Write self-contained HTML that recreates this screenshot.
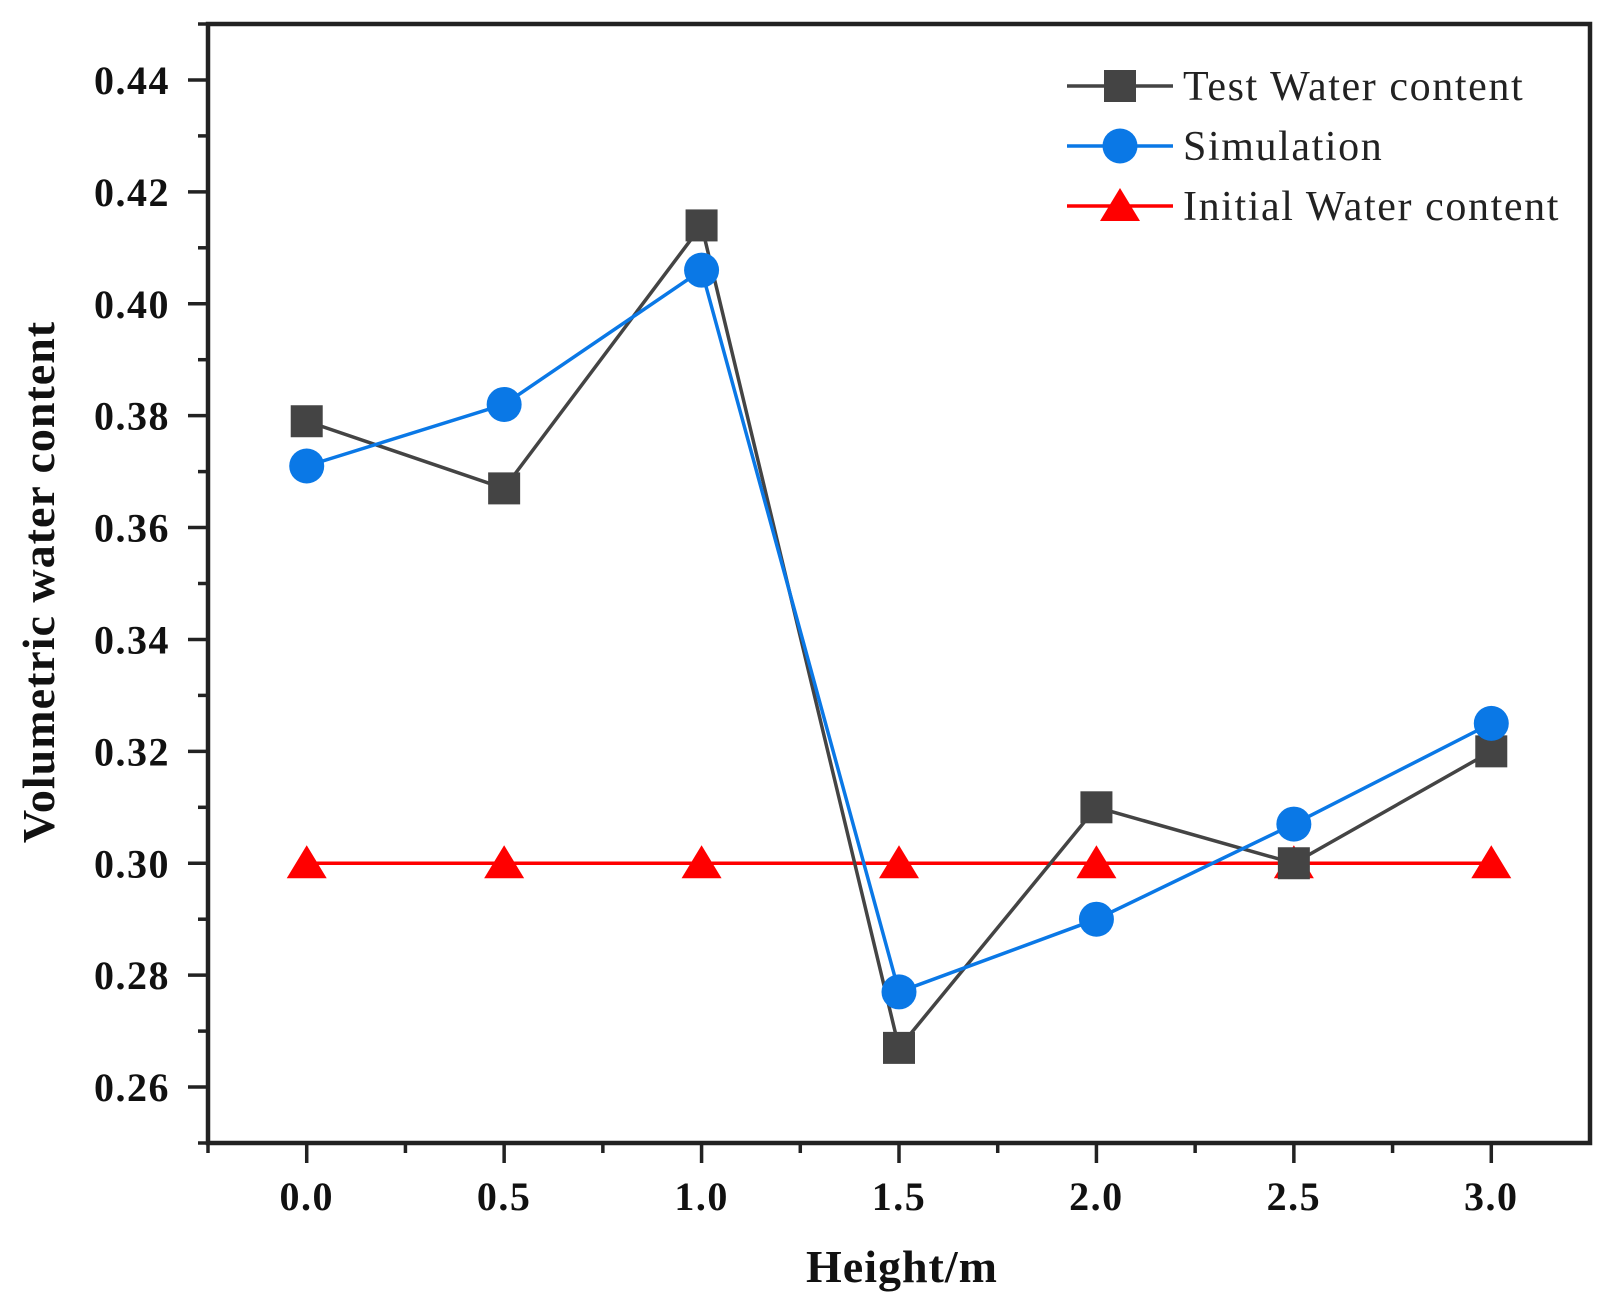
<!DOCTYPE html>
<html><head><meta charset="utf-8"><style>body{margin:0;background:#fff}svg{display:block}</style></head>
<body>
<svg id="chart" width="1609" height="1305" xmlns="http://www.w3.org/2000/svg">
<g id="plot"></g>
</svg>
<script>
const xCats = [0, 0.5, 1.0, 1.5, 2.0, 2.5, 3.0];
const testVals = [0.379, 0.367, 0.414, 0.267, 0.310, 0.300, 0.320];
const simVals = [0.371, 0.382, 0.406, 0.277, 0.290, 0.307, 0.325];
const initVals = [0.30, 0.30, 0.30, 0.30, 0.30, 0.30, 0.30];
const xTicks = ["0.0","0.5","1.0","1.5","2.0","2.5","3.0"];
const yTicks = ["0.26","0.28","0.30","0.32","0.34","0.36","0.38","0.40","0.42","0.44"];

const L=208,R=1590,T=24,B=1143;
const xMin=-0.25,xMax=3.25,yMin=0.25,yMax=0.45;
const X=v=>L+(v-xMin)/(xMax-xMin)*(R-L);
const Y=v=>B-(v-yMin)/(yMax-yMin)*(B-T);
const NS="http://www.w3.org/2000/svg";
const g=document.getElementById('plot');
function mk(tag,attrs,parent){const e=document.createElementNS(NS,tag);for(const k in attrs)e.setAttribute(k,attrs[k]);(parent||g).appendChild(e);return e;}

let fr=mk('rect',{x:L,y:T,width:R-L,height:B-T,fill:'none',stroke:'#222','stroke-width':4.5});



const FS='font-family';
yTicks.forEach(t=>{const v=parseFloat(t);const y=Y(v);
 let l=mk('line',{x1:L-20,x2:L,y1:y,y2:y,stroke:'#222','stroke-width':3.5});
 
 
 let m=mk('line',{x1:L-10,x2:L,y1:Y(v+0.01),y2:Y(v+0.01),stroke:'#222','stroke-width':3.5});
 
 
 let tx=mk('text',{x:170,y:y+14,'text-anchor':'end',[FS]:'Liberation Serif, serif','font-weight':'bold','font-size':40,'letter-spacing':1.5,fill:'#111'});
 tx.textContent=t;
 
 
});
let m0=mk('line',{x1:L-10,x2:L,y1:Y(0.25),y2:Y(0.25),stroke:'#222','stroke-width':3.5});


xTicks.forEach(t=>{const v=parseFloat(t);const x=X(v);
 let l=mk('line',{x1:x,x2:x,y1:B,y2:B+20,stroke:'#222','stroke-width':3.5});
 
 
 if(v<3){let m=mk('line',{x1:X(v+0.25),x2:X(v+0.25),y1:B,y2:B+10,stroke:'#222','stroke-width':3.5});
 
 }
 let tx=mk('text',{x:x,y:1210,'text-anchor':'middle',[FS]:'Liberation Serif, serif','font-weight':'bold','font-size':40,'letter-spacing':1.5,fill:'#111'});
 tx.textContent=t;
 
 
});
let xm=mk('line',{x1:X(-0.25),x2:X(-0.25),y1:B,y2:B+10,stroke:'#222','stroke-width':3.5});



let xt=mk('text',{x:902,y:1282,'text-anchor':'middle',[FS]:'Liberation Serif, serif','font-weight':'bold','font-size':46,'letter-spacing':1,fill:'#111'});
xt.textContent='Height/m';


let yt=mk('text',{x:0,y:0,transform:'translate(54,582) rotate(-90)','text-anchor':'middle',[FS]:'Liberation Serif, serif','font-weight':'bold','font-size':46,'letter-spacing':1,fill:'#111'});
yt.textContent='Volumetric water content';



function square(x,y,c,name){let e=mk('rect',{x:x-16,y:y-16,width:32,height:32,fill:c});}
function circle(x,y,c,name){let e=mk('circle',{cx:x,cy:y,r:17.5,fill:c});}
function tri(x,y,c,name){let e=mk('polygon',{points:`${x},${y-18} ${x-20},${y+15} ${x+20},${y+15}`,fill:c});}

function series(vals,color,marker,name){
 let p=mk('polyline',{points:xCats.map((x,i)=>X(x)+','+Y(vals[i])).join(' '),fill:'none',stroke:color,'stroke-width':3.5});
 
 
 xCats.forEach((x,i)=>marker(X(x),Y(vals[i]),color,name+'-point'));
}
series(initVals,'#ff0000',tri,'initial-water-content');
series(testVals,'#444444',square,'test-water-content');
series(simVals,'#0a78e6',circle,'simulation');

const leg=[['Test Water content','#444444',square,'legend-test'],['Simulation','#0a78e6',circle,'legend-simulation'],['Initial Water content','#ff0000',tri,'legend-initial']];
leg.forEach((d,i)=>{const y=86+i*60;
 let l=mk('line',{x1:1067,x2:1173,y1:y,y2:y,stroke:d[1],'stroke-width':3.5});
 
 
 d[2](1120,y,d[1],d[3]+'-marker');
 let t=mk('text',{x:1183,y:y+14,[FS]:'Liberation Serif, serif','font-size':42,'letter-spacing':1.6,fill:'#222'});
 t.textContent=d[0];
 
 
});
</script>
</body></html>
